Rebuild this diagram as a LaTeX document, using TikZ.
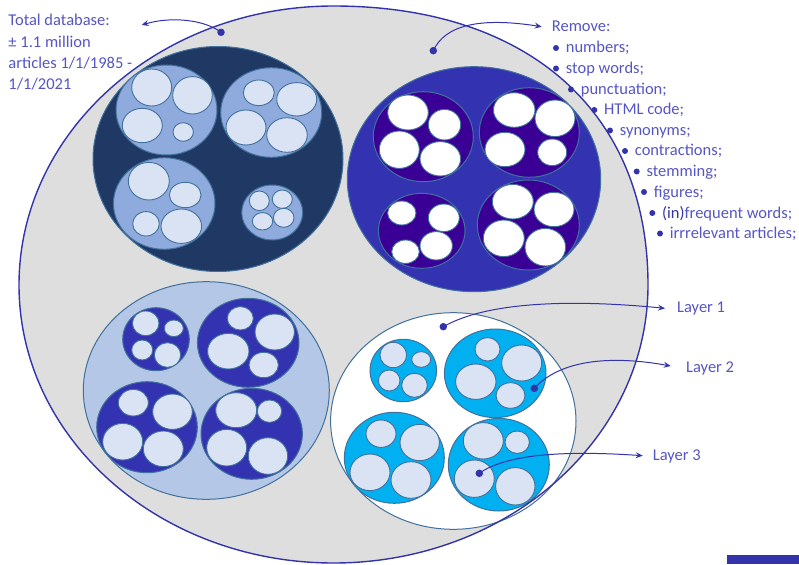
\documentclass[tikz,border=0pt]{standalone}
\usepackage{fontspec}
\setmainfont{Carlito}
\usetikzlibrary{arrows.meta}
\definecolor{outerfill}{HTML}{DEDEDE}
\definecolor{linecol}{HTML}{3333AA}
\definecolor{txtcol}{HTML}{5555C4}
\definecolor{txtdark}{HTML}{3333A0}
\definecolor{navyfill}{HTML}{203864}
\definecolor{midfill}{HTML}{8FAADC}
\definecolor{palefill}{HTML}{DAE3F3}
\definecolor{royalfill}{HTML}{3333B2}
\definecolor{violetfill}{HTML}{3A0096}
\definecolor{lightfill}{HTML}{B4C7E7}
\definecolor{cyanfill}{HTML}{00B0F0}
\definecolor{edgecol}{HTML}{41719C}
\tikzset{
  bigc/.style={draw=edgecol, line width=1pt},
  subc/.style={draw=edgecol, line width=1pt},
  smallc/.style={draw=edgecol, line width=0.9pt},
  dotn/.style={circle, fill=linecol, inner sep=0pt, minimum size=7.5pt},
  bul/.style={circle, fill=linecol, inner sep=0pt, minimum size=6pt},
  arr/.style={draw=linecol, line width=1pt, -{Stealth[length=7pt,width=6pt,inset=2.5pt]}},
  lbl/.style={anchor=base west, inner sep=0pt, text=txtcol, font=\fontsize{16.5}{20}\selectfont},
}
\begin{document}
\begin{tikzpicture}[x=1pt,y=-1pt]
\useasboundingbox (0,0) rectangle (799,564);
% outer shape fill
\fill[outerfill] (648,285) .. controls (648,112.3) and (528.5,6) .. (333.5,6)
  .. controls (159.8,6) and (19,131.2) .. (19,285)
  .. controls (19,438.8) and (159.8,563) .. (333.5,563)
  .. controls (507.2,563) and (648,438.8) .. (648,285) -- cycle;
% four big groups
\draw[bigc, fill=navyfill] (218,159) ellipse [x radius=125pt, y radius=112.5pt];
\draw[bigc, fill=royalfill] (474,179.2) ellipse [x radius=126.7pt, y radius=112.5pt];
\draw[bigc, fill=lightfill] (206.3,390.5) ellipse [x radius=123pt, y radius=108.8pt];
\draw[bigc, fill=white] (453.3,421) ellipse [x radius=122.7pt, y radius=108.3pt];
% top-left subgroups
\foreach \cx/\cy/\rx/\ry in {166.5/110/50.5/45, 271.2/112.5/50.5/44.8, 164.2/203.5/50.8/45.8, 272.2/212.5/30.5/27.5}
  \draw[subc, fill=midfill] (\cx,\cy) ellipse [x radius=\rx pt, y radius=\ry pt];
\foreach \cx/\cy/\rx/\ry in {151.7/87.5/20/18.5, 192.5/95.3/19.8/18.7, 142.3/125.5/20/17.2, 183.2/132/10.2/9.3,
  258.8/92.8/15.5/12.8, 296.7/99.3/20/16.7, 246/127.5/20/17.5, 287/135/20.3/17.3,
  148.8/181.2/20.5/18.8, 185.2/195/15.8/12.7, 146/223.8/13.3/12.2, 181.3/226.2/20.3/17.2,
  259.3/200.8/10/9.8, 282.3/199.2/10/9.2, 262.5/221.3/10.2/8.7, 283.7/217.8/10.3/9.5}
  \draw[smallc, fill=palefill] (\cx,\cy) ellipse [x radius=\rx pt, y radius=\ry pt];
% top-right subgroups
\foreach \cx/\cy/\rx/\ry in {423.3/136.7/50/45, 529.3/132.5/50/44.8, 421.7/230.8/43.3/37.5, 528.3/225/51/45}
  \draw[subc, fill=violetfill] (\cx,\cy) ellipse [x radius=\rx pt, y radius=\ry pt];
\foreach \cx/\cy/\rx/\ry in {408/112.5/20.3/17.5, 444.5/124.7/16.2/15.3, 399.3/149.7/20/18.7, 440.3/158.8/20.3/17.2,
  514.2/110/20.8/17.3, 555/118.3/20/18.3, 505/149.5/20/17.2, 552.2/152.3/14.5/13.3,
  401.8/213/14.2/12, 443.8/217.8/15.5/13.8, 405.5/251.7/13.8/11.7, 436.2/245.8/16.2/14.2,
  512.8/201.7/20.5/17.3, 554/209.5/20/17.2, 503.8/238.3/20.5/18.3, 545.3/247.2/20.3/18.8}
  \draw[smallc, fill=white] (\cx,\cy) ellipse [x radius=\rx pt, y radius=\ry pt];
% bottom-left subgroups
\foreach \cx/\cy/\rx/\ry in {156/339.2/33.3/31.5, 248.2/342.8/50.8/44.5, 147/427.2/50.3/45.5, 251.7/433.8/50.7/45.5}
  \draw[subc, fill=royalfill] (\cx,\cy) ellipse [x radius=\rx pt, y radius=\ry pt];
\foreach \cx/\cy/\rx/\ry in {145.7/323.3/13.3/12.3, 173.8/328.3/9.5/8.3, 142.2/350/10.5/10, 167.5/355/13.2/12.3,
  240.3/318.3/13/11.7, 274.7/332/19.7/18, 228.3/351.2/20.7/17.8, 263.7/365/14.7/12.7,
  133.3/402.7/15/13.3, 172.5/411.7/19.8/17.7, 122.7/441.7/20/18.3, 163.3/448.8/20/17.8,
  236.2/410.2/20.5/17.5, 269.5/411.2/12.2/11.2, 226.7/447.7/20/18.3, 268/456/19.7/18.3}
  \draw[smallc, fill=palefill] (\cx,\cy) ellipse [x radius=\rx pt, y radius=\ry pt];
% bottom-right subgroups
\foreach \cx/\cy/\rx/\ry in {403.3/370.5/33.3/31.2, 495.2/373.3/50.8/44.3, 394.3/457.8/50/45.5, 498.8/464.7/50.5/46.3}
  \draw[subc, fill=cyanfill] (\cx,\cy) ellipse [x radius=\rx pt, y radius=\ry pt];
\foreach \cx/\cy/\rx/\ry in {393.3/355/13.3/12.7, 421.2/359.5/9.5/7.8, 389.2/380.5/10.8/10.5, 414.5/385.3/12.8/12,
  487.5/349.3/12.5/11.7, 521.7/363/20/18, 475.8/381.7/20.2/17.7, 510.5/395.5/14.5/12.8,
  381/433.7/15/13.7, 419.7/442.5/19.7/18.2, 370/472.3/20/18.3, 411/480/20/18.3,
  483.3/440.8/20/18.2, 517.2/442.2/12.2/11.2, 474.3/478.7/20/18.7, 515.3/486.3/19.7/18.7}
  \draw[smallc, fill=palefill] (\cx,\cy) ellipse [x radius=\rx pt, y radius=\ry pt];
% outer outline on top
\draw[linecol, line width=1.4pt] (648,285) .. controls (648,112.3) and (528.5,6) .. (333.5,6)
  .. controls (159.8,6) and (19,131.2) .. (19,285)
  .. controls (19,438.8) and (159.8,563) .. (333.5,563)
  .. controls (507.2,563) and (648,438.8) .. (648,285) -- cycle;
% texts: total database
\node[lbl] (tdb1) at (8.3,26) {Total database:};
\node[lbl] (tdb2) at (8.3,47.5) {± 1.1 million};
\node[lbl] (tdb3) at (8.3,68.5) {articles 1/1/1985 -};
\node[lbl] (tdb4) at (8.3,89.5) {1/1/2021};
% remove list
\node[lbl] (rem) at (551.7,31.5) {Remove:};
\foreach \n/\bx/\by/\t in {r1/556/53/{numbers;}, r2/556/73.5/{stop words;}, r3/571/94.5/{punctuation;},
  r4/594.3/115/{HTML code;}, r5/610/135.5/{synonyms;}, r6/625/156/{contractions;},
  r7/636.7/176.5/{stemming;}, r8/644/197/{figures;}, r9/652.3/218/{{\color{txtdark}(in)}frequent words;},
  r10/660/238.5/{irrrelevant articles;}}
{
  \node[bul] (b\n) at (\bx,\by-5) {};
  \node[lbl] (\n) at (\bx+9.7,\by) {\t};
}
% layer labels
\node[lbl] (lay1) at (677,312.3) {Layer 1};
\node[lbl] (lay2) at (686,372.3) {Layer 2};
\node[lbl] (lay3) at (652.7,460) {Layer 3};
% dots
\node[dotn] (dTot) at (221,32.3) {};
\node[dotn] (dRem) at (433.3,50.7) {};
\node[dotn] (dL1) at (443.3,326.7) {};
\node[dotn] (dL2) at (534.3,388.3) {};
\node[dotn] (dL3) at (479.3,473.3) {};
% arrow tips
\coordinate (tTot) at (141.7,25);
\coordinate (tRem) at (541.7,26.7);
\coordinate (tL1) at (665,308.3);
\coordinate (tL2) at (670.7,366);
\coordinate (tL3) at (642.7,455.7);
\draw[arr] (dTot.center) .. controls (205,20) and (172,16) .. (tTot);
\draw[arr] (dRem.center) .. controls (445,25) and (480,17) .. (tRem);
\draw[arr] (dL1.center) .. controls (490,300) and (580,300) .. (tL1);
\draw[arr] (dL2.center) .. controls (560,360) and (610,355) .. (tL2);
\draw[arr] (dL3.center) .. controls (505,455) and (560,450) .. (tL3);
% bar
\fill[linecol] (727.3,555) rectangle (799,564);
\end{tikzpicture}
\end{document}
